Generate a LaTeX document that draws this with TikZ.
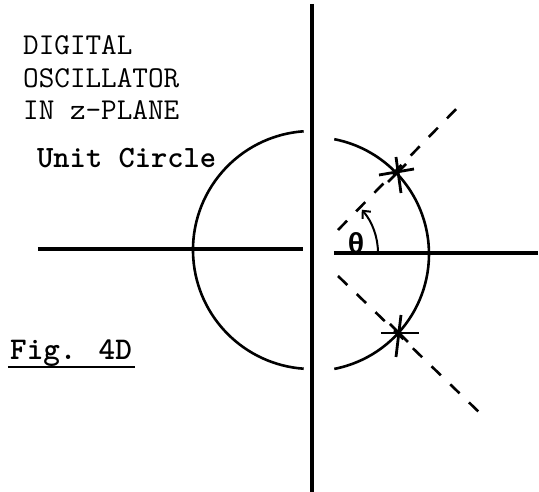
\documentclass[tikz,border=0pt]{standalone}
\usepackage{fontspec}
\newfontfamily\thetafont{Liberation Mono}
\usetikzlibrary{arrows.meta}
\begin{document}
\begin{tikzpicture}[x=1pt, y=1pt,
	realaxis/.style={line width=3.2pt},
	unitarc/.style={line width=2.6pt},
	poleray/.style={line width=2.6pt, dash pattern=on 13pt off 13pt},
	polecross/.style={line width=2.8pt},
	twtext/.style={inner sep=0pt, anchor=base west, font=\ttfamily\fontsize{30.3}{33}\selectfont},
	twbold/.style={inner sep=0pt, anchor=base west, font=\ttfamily\bfseries\fontsize{31}{33}\selectfont}]
	\useasboundingbox (-312,-240) rectangle (227,252);
	% imaginary axis
	\coordinate (imtop) at (0,248);
	\coordinate (imbot) at (0,-240);
	\draw[line width=4pt] (imtop) -- (imbot);
	% real axis, two halves
	\coordinate (reL0) at (-274,3);
	\coordinate (reL1) at (-9,3);
	\coordinate (reR0) at (22,-1);
	\coordinate (reR1) at (226,-1);
	\draw[realaxis] (reL0) -- (reL1);
	\draw[realaxis] (reR0) -- (reR1);
	% unit circle, two halves
	\coordinate (arcL) at (-8.3,120.7);
	\coordinate (arcR) at (22.3,-116.9);
	\draw[unitarc] (arcL) arc[start angle=94, end angle=266, radius=119];
	\draw[unitarc] (arcR) arc[start angle=-79, end angle=79, radius=117];
	% rays to the poles
	\coordinate (up0) at (26,22);
	\coordinate (up1) at (151,150);
	\coordinate (lo0) at (26,-24);
	\coordinate (lo1) at (170,-163);
	\draw[poleray] (up0) -- (up1);
	\draw[poleray] (lo0) -- (lo1);
	% poles
	\coordinate (p1) at (85,79);
	\coordinate (p2) at (87,-81);
	\draw[polecross] ([shift={(-18,-2)}]p1) -- ([shift={(17,4)}]p1);
	\draw[polecross] ([shift={(-1,16)}]p1) -- ([shift={(4,-20)}]p1);
	\draw[polecross] ([shift={(-9,-9)}]p1) -- ([shift={(9,9)}]p1);
	\draw[polecross] ([shift={(-18,0)}]p2) -- ([shift={(20,0)}]p2);
	\draw[polecross] ([shift={(2,18)}]p2) -- ([shift={(-3,-24)}]p2);
	\draw[polecross] ([shift={(-9,9)}]p2) -- ([shift={(9,-9)}]p2);
	% angle
	\coordinate (ang0) at (66,-1);
	\draw[line width=2pt, -{Straight Barb[length=6pt, width=11pt]}] (ang0) arc[start angle=0, end angle=41, radius=66];
	\node[inner sep=0pt, font=\thetafont\bfseries\fontsize{29}{32}\selectfont] (theta) at (44,9) {θ};
	% texts
	\node[twtext] (title1) at (-289,197) {DIGITAL};
	\node[twtext] (title2) at (-289,164) {OSCILLATOR};
	\node[twtext] (title3) at (-289,132) {IN z-PLANE};
	\node[twbold] (unitc) at (-275,84) {Unit Circle};
	\node[twbold, font=\ttfamily\bfseries\fontsize{31.6}{33}\selectfont] (fig) at (-302,-108) {Fig. 4D};
	\draw[line width=1.6pt] ([shift={(-2,-7)}]fig.base west) -- ([shift={(3,-7)}]fig.base east);
\end{tikzpicture}
\end{document}
